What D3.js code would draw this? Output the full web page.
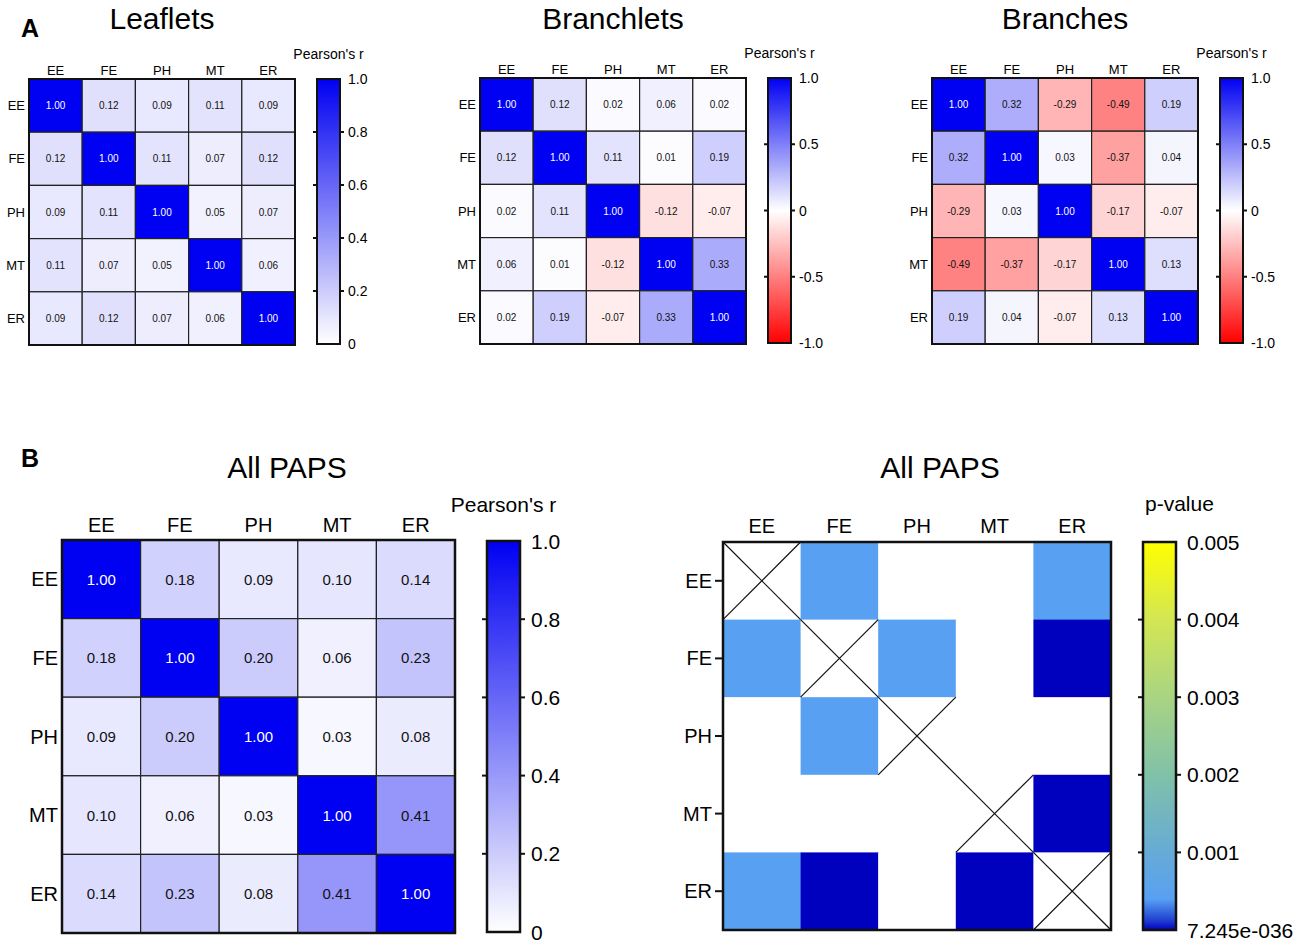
<!DOCTYPE html>
<html>
<head>
<meta charset="utf-8">
<script src="https://cdn.jsdelivr.net/npm/d3@7"></script>
<style>
  body { margin: 0; background: #fff; }
  svg { font-family: "Liberation Sans", Arial, sans-serif; }
</style>
</head>
<body>
<div id="chart"></div>
<script>
// variables (rows / columns of every matrix)
const vars = ["EE", "FE", "PH", "MT", "ER"];

// Pearson's r, panel A
const leafletsR = [
  [1.00, 0.12, 0.09, 0.11, 0.09],
  [0.12, 1.00, 0.11, 0.07, 0.12],
  [0.09, 0.11, 1.00, 0.05, 0.07],
  [0.11, 0.07, 0.05, 1.00, 0.06],
  [0.09, 0.12, 0.07, 0.06, 1.00]
];
const branchletsR = [
  [1.00, 0.12, 0.02, 0.06, 0.02],
  [0.12, 1.00, 0.11, 0.01, 0.19],
  [0.02, 0.11, 1.00, -0.12, -0.07],
  [0.06, 0.01, -0.12, 1.00, 0.33],
  [0.02, 0.19, -0.07, 0.33, 1.00]
];
const branchesR = [
  [1.00, 0.32, -0.29, -0.49, 0.19],
  [0.32, 1.00, 0.03, -0.37, 0.04],
  [-0.29, 0.03, 1.00, -0.17, -0.07],
  [-0.49, -0.37, -0.17, 1.00, 0.13],
  [0.19, 0.04, -0.07, 0.13, 1.00]
];

// panel B
const allPapsR = [
  [1.00, 0.18, 0.09, 0.10, 0.14],
  [0.18, 1.00, 0.20, 0.06, 0.23],
  [0.09, 0.20, 1.00, 0.03, 0.08],
  [0.10, 0.06, 0.03, 1.00, 0.41],
  [0.14, 0.23, 0.08, 0.41, 1.00]
];
// p-values (null = above 0.005, drawn white; diagonal is crossed out)
const allPapsP = [
  [null, 0.0004, null, null, 0.0004],
  [0.0004, null, 0.0004, null, 1e-9],
  [null, 0.0004, null, null, null],
  [null, null, null, null, 7.245e-36],
  [0.0004, 1e-9, null, 7.245e-36, null]
];

// colour bar ticks
const posTicks = [0, 0.2, 0.4, 0.6, 0.8, 1.0];
const divTicks = [-1.0, -0.5, 0, 0.5, 1.0];
const pTicks = [7.245e-36, 0.001, 0.002, 0.003, 0.004, 0.005];
const pTickLabels = ["7.245e-036", "0.001", "0.002", "0.003", "0.004", "0.005"];

const BLUE = "#0000f2";
const posColor = d3.scaleLinear().domain([0, 1]).range(["#ffffff", BLUE]).clamp(true);
const divColor = d3.scaleLinear().domain([-1, 0, 1]).range(["#ff0000", "#ffffff", BLUE]).clamp(true);
const pColor = d3.scaleLinear()
  .domain([7.245e-36, 0.00012, 0.0004, 0.001, 0.002, 0.003, 0.004, 0.005])
  .range(["#0000bf", "#1f3ed0", "#58a0f2", "#66abd6", "#80c1a8", "#a9d482", "#d3e653", "#ffff00"])
  .clamp(true);

// plain hyphen for negatives, like the original
const fmt1 = d3.formatLocale({decimal: ".", thousands: ",", grouping: [3], currency: ["", ""], minus: "-"});
const rFormat = d => d === 0 ? "0" : fmt1.format(".1f")(d);
const valFormat = fmt1.format(".2f");

const svg = d3.select("#chart").append("svg")
  .attr("width", 1300)
  .attr("height", 947);
const defs = svg.append("defs");
let gradCount = 0;

function drawColorbar(cfg) {
  const g = svg.append("g").attr("transform", `translate(${cfg.x},${cfg.y})`);
  const id = "grad" + (gradCount++);
  const dom = cfg.scale.domain();
  const grad = defs.append("linearGradient").attr("id", id)
    .attr("x1", 0).attr("y1", 1).attr("x2", 0).attr("y2", 0);
  d3.range(0, 1.0001, 0.01).forEach(t => {
    const v = dom[0] + t * (dom[1] - dom[0]);
    grad.append("stop").attr("offset", t).attr("stop-color", cfg.color(v));
  });
  const ys = cfg.scale.copy().range([cfg.h, 0]);
  g.append("rect").attr("width", cfg.w).attr("height", cfg.h)
    .attr("fill", `url(#${id})`).attr("stroke", "#111").attr("stroke-width", cfg.frame);
  cfg.ticks.forEach((t, i) => {
    const y = ys(t);
    if (i > 0 && i < cfg.ticks.length - 1) {
      g.append("line").attr("x1", -cfg.tick).attr("x2", 0).attr("y1", y).attr("y2", y)
        .attr("stroke", "#111").attr("stroke-width", 2);
      g.append("line").attr("x1", cfg.w).attr("x2", cfg.w + cfg.tick).attr("y1", y).attr("y2", y)
        .attr("stroke", "#111").attr("stroke-width", 2);
    }
    g.append("text").attr("x", cfg.w + cfg.gap).attr("y", y)
      .attr("dominant-baseline", "central")
      .style("font-size", cfg.fontSize + "px")
      .text(cfg.labels ? cfg.labels[i] : rFormat(t));
  });
  g.append("text")
    .attr("x", cfg.labelAnchor === "start" ? 2 : cfg.w / 2)
    .attr("y", -cfg.labelGap)
    .attr("text-anchor", cfg.labelAnchor || "middle")
    .style("font-size", cfg.labelSize + "px")
    .text(cfg.label);
}

function drawCorr(cfg) {
  const g = svg.append("g").attr("transform", `translate(${cfg.x},${cfg.y})`);
  const xs = d3.scaleBand().domain(vars).range([0, cfg.size]);
  const ys = d3.scaleBand().domain(vars).range([0, cfg.size]);
  const bw = xs.bandwidth();
  const cells = [];
  cfg.matrix.forEach((row, i) => row.forEach((v, j) => cells.push({r: vars[i], c: vars[j], v: v, diag: i === j})));

  g.selectAll("rect.cell").data(cells).join("rect")
    .attr("class", "cell")
    .attr("x", d => xs(d.c)).attr("y", d => ys(d.r))
    .attr("width", bw).attr("height", bw)
    .attr("fill", d => cfg.color(d.v))
    .attr("stroke", "#222").attr("stroke-width", 1.2);

  g.selectAll("text.val").data(cells).join("text")
    .attr("class", "val")
    .attr("x", d => xs(d.c) + bw / 2).attr("y", d => ys(d.r) + bw / 2)
    .attr("text-anchor", "middle").attr("dominant-baseline", "central")
    .style("font-size", cfg.valSize + "px")
    .style("fill", d => d.diag ? "#fff" : "#111")
    .text(d => valFormat(d.v));

  g.append("rect").attr("width", cfg.size).attr("height", cfg.size)
    .attr("fill", "none").attr("stroke", "#111").attr("stroke-width", cfg.frame);

  // column headers
  g.selectAll("text.col").data(vars).join("text")
    .attr("class", "col")
    .attr("x", d => xs(d) + bw / 2).attr("y", -cfg.headGap)
    .attr("text-anchor", "middle")
    .style("font-size", cfg.headSize + "px")
    .text(d => d);
  // row labels
  g.selectAll("text.row").data(vars).join("text")
    .attr("class", "row")
    .attr("x", -cfg.rowGap).attr("y", d => ys(d) + bw / 2)
    .attr("text-anchor", "end").attr("dominant-baseline", "central")
    .style("font-size", cfg.headSize + "px")
    .text(d => d);
}

function title(x, y, txt) {
  svg.append("text").attr("x", x).attr("y", y).attr("text-anchor", "middle")
    .style("font-size", "30px").text(txt);
}
function panelLetter(x, y, txt) {
  svg.append("text").attr("x", x).attr("y", y)
    .style("font-size", "25px").style("font-weight", "bold").text(txt);
}

// ---- panel A ----
panelLetter(21, 37, "A");
const topPanels = [
  {name: "Leaflets", m: leafletsR, x: 29, y: 79, color: posColor, ticks: posTicks, cbx: 317},
  {name: "Branchlets", m: branchletsR, x: 480, y: 78, color: divColor, ticks: divTicks, cbx: 768},
  {name: "Branches", m: branchesR, x: 932, y: 78, color: divColor, ticks: divTicks, cbx: 1220}
];
topPanels.forEach(p => {
  title(p.x + 266 / 2, 29, p.name);
  drawCorr({x: p.x, y: p.y, size: 266, matrix: p.m, color: p.color,
    valSize: 10, headSize: 13, headGap: 4, rowGap: 4, frame: 2});
  drawColorbar({x: p.cbx, y: p.y, w: 23, h: 265, scale: d3.scaleLinear().domain([p.ticks[0], 1]),
    color: p.color, ticks: p.ticks, fontSize: 14, gap: 8, tick: 4, frame: 2,
    label: "Pearson's r", labelSize: 14, labelGap: 20});
});

// ---- panel B ----
panelLetter(21, 467, "B");
title(287, 478, "All PAPS");
drawCorr({x: 62, y: 540, size: 393, matrix: allPapsR, color: posColor,
  valSize: 15, headSize: 20, headGap: 8, rowGap: 4, frame: 2.5});
drawColorbar({x: 487, y: 541, w: 33, h: 391, scale: d3.scaleLinear().domain([0, 1]),
  color: posColor, ticks: posTicks, fontSize: 21, gap: 11, tick: 5, frame: 2.5,
  label: "Pearson's r", labelSize: 21, labelGap: 29});

// p-value matrix
title(940, 478, "All PAPS");
(function () {
  const size = 388;
  const g = svg.append("g").attr("transform", "translate(723,542)");
  const xs = d3.scaleBand().domain(vars).range([0, size]);
  const ys = d3.scaleBand().domain(vars).range([0, size]);
  const bw = xs.bandwidth();
  const cells = [];
  allPapsP.forEach((row, i) => row.forEach((v, j) => cells.push({r: vars[i], c: vars[j], v: v, diag: i === j})));

  g.selectAll("rect.cell").data(cells).join("rect")
    .attr("class", "cell")
    .attr("x", d => xs(d.c)).attr("y", d => ys(d.r))
    .attr("width", bw + 0.5).attr("height", bw + 0.5)
    .attr("fill", d => d.v == null ? "#fff" : pColor(d.v));

  const diag = cells.filter(d => d.diag);
  g.selectAll("line.x1").data(diag).join("line")
    .attr("x1", d => xs(d.c)).attr("y1", d => ys(d.r))
    .attr("x2", d => xs(d.c) + bw).attr("y2", d => ys(d.r) + bw)
    .attr("stroke", "#111").attr("stroke-width", 1.2);
  g.selectAll("line.x2").data(diag).join("line")
    .attr("x1", d => xs(d.c) + bw).attr("y1", d => ys(d.r))
    .attr("x2", d => xs(d.c)).attr("y2", d => ys(d.r) + bw)
    .attr("stroke", "#111").attr("stroke-width", 1.2);

  g.append("rect").attr("width", size).attr("height", size)
    .attr("fill", "none").attr("stroke", "#111").attr("stroke-width", 2.5);

  g.selectAll("text.col").data(vars).join("text")
    .attr("x", d => xs(d) + bw / 2).attr("y", -9)
    .attr("text-anchor", "middle").style("font-size", "20px").text(d => d);

  g.selectAll("line.rt").data(vars).join("line")
    .attr("x1", -8).attr("x2", 0)
    .attr("y1", d => ys(d) + bw / 2).attr("y2", d => ys(d) + bw / 2)
    .attr("stroke", "#111").attr("stroke-width", 2);
  g.selectAll("text.row").data(vars).join("text")
    .attr("x", -11).attr("y", d => ys(d) + bw / 2)
    .attr("text-anchor", "end").attr("dominant-baseline", "central")
    .style("font-size", "20px").text(d => d);
})();

drawColorbar({x: 1143, y: 542, w: 33, h: 388, scale: d3.scaleLinear().domain([pTicks[0], 0.005]),
  color: pColor, ticks: pTicks, labels: pTickLabels, fontSize: 21, gap: 11, tick: 5, frame: 2.5,
  label: "p-value", labelSize: 21, labelGap: 31, labelAnchor: "start"});
</script>
</body>
</html>
